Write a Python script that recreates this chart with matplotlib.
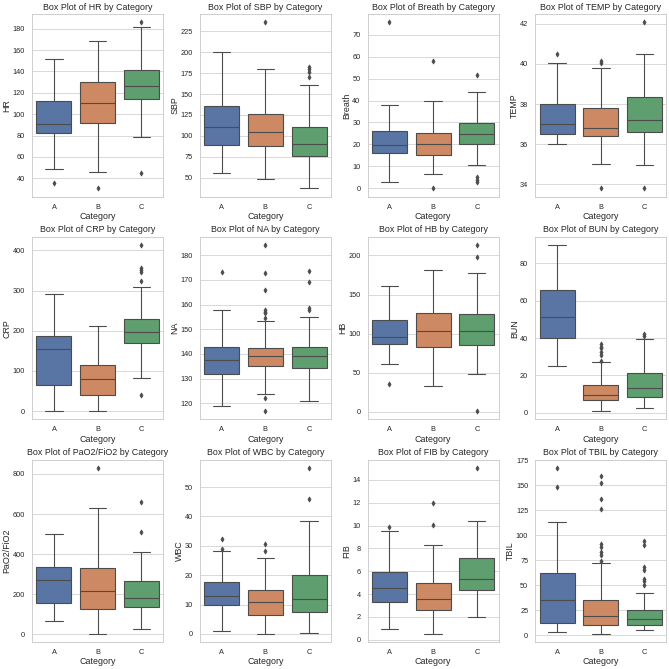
import matplotlib
matplotlib.use("Agg")
import matplotlib.pyplot as plt
import seaborn as sns
import colorsys

# ---------------- data (whislo, q1, median, q3, whishi) per category A, B, C
categories = ["A", "B", "C"]

HR_stats = [[49, 82, 91, 112, 152], [46, 91.6, 110.6, 130.6, 168.4], [78.8, 114.4, 126.6, 141.6, 181.5]]
HR_fliers = [[35.6], [30.6], [186, 45.3]]

SBP_stats = [[55.2, 89.6, 110.3, 135.5, 199.8], [48.8, 88.4, 104.3, 126.7, 180.2], [37.2, 76, 90, 110.7, 160.3]]
SBP_fliers = [[], [235.8], [182.6, 179.8, 177, 170.3]]

Breath_stats = [[3, 15.9, 19.8, 26.1, 37.8], [6.6, 15.4, 20, 25.2, 39.8], [10.8, 20.3, 24.7, 29.7, 43.9]]
Breath_fliers = [[75.6], [58, 0], [51.7, 5, 4, 3]]

TEMP_stats = [[36, 36.5, 37, 38, 40.05], [35, 36.4, 36.8, 37.8, 39.8], [34.98, 36.62, 37.2, 38.35, 40.5]]
TEMP_fliers = [[40.5], [40.15, 40.05, 33.8], [42.07, 33.8]]

CRP_stats = [[0, 64.2, 155.8, 187.5, 291.7], [0.8, 40.8, 79.2, 115.8, 210.8], [82.5, 170, 195.8, 229, 309]]
CRP_fliers = [[], [], [413, 356.7, 350.8, 345.8, 324, 40.8]]

NA_stats = [[118.9, 132, 137.4, 143, 157.8], [124, 135.1, 139.1, 142.5, 153.5], [121, 134.3, 139, 143, 155]]
NA_fliers = [[173.2], [184, 172.7, 166, 157.8, 157.1, 156.4, 154.6, 122.4, 116.9], [173.6, 169, 158.5, 157.7]]

HB_stats = [[60.6, 87.4, 96, 116.9, 160.8], [32.8, 83.2, 104, 125.8, 180.8], [48.6, 86.1, 102.8, 125, 177.8]]
HB_fliers = [[35.8], [], [213.2, 198.3, 0.9]]

BUN_stats = [[25.2, 40.3, 51.2, 65.9, 89.8], [0.9, 6.8, 9.8, 14.8, 27], [2.7, 8.3, 13.5, 21.1, 39.6]]
BUN_fliers = [[], [36.7, 35.5, 34.6, 32.8, 31, 28], [42, 41]]

PaO2_stats = [[65, 157, 270, 338, 500], [2, 128, 218, 332, 630], [28, 135, 182, 267, 412]]
PaO2_fliers = [[], [830], [658, 508]]

WBC_stats = [[1.1, 10, 13, 17.6, 28.2], [0, 6.5, 10.7, 14.8, 26], [0.3, 7.3, 12, 19.9, 38.6]]
WBC_fliers = [[32.2, 28.9], [30.5, 28.1], [56.5, 46]]

FIB_stats = [[0.94, 3.33, 4.56, 5.9, 9.53], [0.5, 2.63, 3.6, 4.94, 8.33], [2.0, 4.35, 5.35, 7.16, 10.38]]
FIB_fliers = [[9.9], [12, 10.05], [15.05]]

TBIL_stats = [[3.7, 12.7, 35, 62, 113.7], [1.3, 10.3, 19.7, 35.7, 72], [5.7, 10.7, 16, 25, 42.7]]
TBIL_fliers = [[167.3, 148.7],
               [159.3, 152.7, 136.7, 126, 91, 88.7, 83.3, 80, 74.7],
               [94.3, 90, 68, 65.3, 56.7, 54.3, 50]]

variables = ["HR", "SBP", "Breath", "TEMP", "CRP", "NA", "HB", "BUN",
             "PaO2/FiO2", "WBC", "FIB", "TBIL"]
all_stats = [HR_stats, SBP_stats, Breath_stats, TEMP_stats, CRP_stats, NA_stats,
             HB_stats, BUN_stats, PaO2_stats, WBC_stats, FIB_stats, TBIL_stats]
all_fliers = [HR_fliers, SBP_fliers, Breath_fliers, TEMP_fliers, CRP_fliers, NA_fliers,
              HB_fliers, BUN_fliers, PaO2_fliers, WBC_fliers, FIB_fliers, TBIL_fliers]

# ---------------- style
sns.set_theme(style="whitegrid")
plt.rcParams["font.family"] = ["Liberation Sans", "DejaVu Sans"]
plt.rcParams["xtick.labelsize"] = 10
plt.rcParams["ytick.labelsize"] = 10
plt.rcParams["axes.labelpad"] = 1.5


def desaturate(c, prop=0.75):
    h, l, s = colorsys.rgb_to_hls(*c)
    return colorsys.hls_to_rgb(h, l, s * prop)


base = sns.color_palette("deep", 3)
colors = [desaturate(c) for c in base]
lum = min(colorsys.rgb_to_hls(*c)[1] for c in colors) * 0.6
gray = (lum, lum, lum)

fig, axes = plt.subplots(3, 4, figsize=(669 / 53, 669 / 53), dpi=53)
fig.subplots_adjust(left=0.048, right=0.996, bottom=0.040, top=0.979,
                    wspace=0.28, hspace=0.22)

for ax, var, stats, fliers in zip(axes.flat, variables, all_stats, all_fliers):
    bxpstats = []
    for cat, s, f in zip(categories, stats, fliers):
        bxpstats.append(dict(label=cat, whislo=s[0], q1=s[1], med=s[2],
                             q3=s[3], whishi=s[4], fliers=f))
    res = ax.bxp(bxpstats, positions=[0, 1, 2], widths=0.8, patch_artist=True,
                 boxprops=dict(edgecolor=gray, linewidth=1.5),
                 whiskerprops=dict(color=gray, linewidth=1.5),
                 capprops=dict(color=gray, linewidth=1.5),
                 medianprops=dict(color=gray, linewidth=1.5),
                 flierprops=dict(marker="d", markerfacecolor=gray,
                                 markeredgecolor=gray, markersize=5,
                                 linestyle="none"))
    for patch, c in zip(res["boxes"], colors):
        patch.set_facecolor(c)
    ax.set_xlim(-0.5, 2.5)
    ax.xaxis.grid(False)
    ax.set_xticks([0, 1, 2])
    ax.set_xticklabels(categories)
    ax.set_title(f"Box Plot of {var} by Category")
    ax.set_xlabel("Category")
    ax.set_ylabel(var)

fig.savefig("out.png", dpi=53)
